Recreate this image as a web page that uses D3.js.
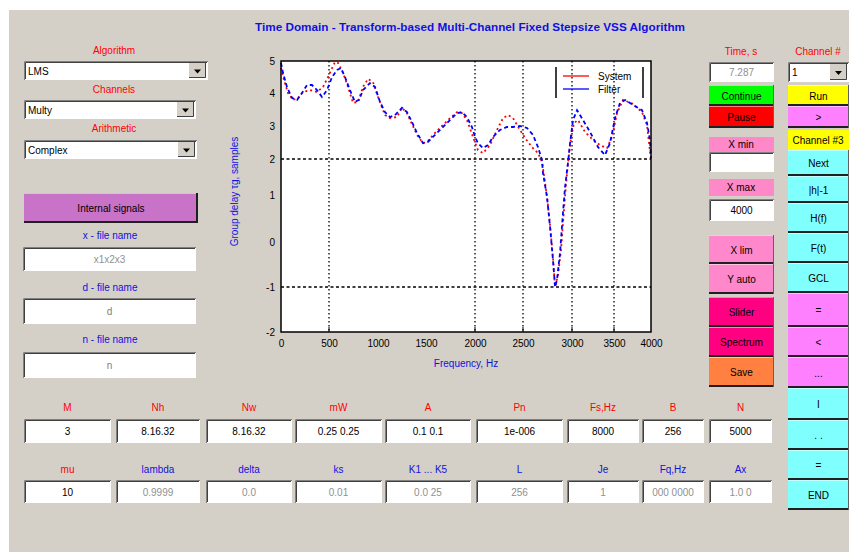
<!DOCTYPE html>
<html><head><meta charset="utf-8">
<script src="https://cdn.jsdelivr.net/npm/d3@7"></script>
<style>
body{margin:0;background:#fff;}
svg{display:block;font-family:"Liberation Sans",Arial,sans-serif;}
</style></head>
<body><svg id="c" width="849" height="552"></svg>
<script>
// ---------- data ----------
const titleText = "Time Domain - Transform-based Multi-Channel Fixed Stepsize VSS Algorithm";
const seriesNames = ["System", "Filter"];
const xTickValues = [0,500,1000,1500,2000,2500,3000,3500,4000];
const xTickLabels = ["0","500","1000","1500","2000","2500","3000","3500","4000"];
const yTickValues = [5,4,3,2,1,0,-1,-2];
const yTickLabels = ["5","4","3","2","1","0","-1","-2"];
const xGrid = [500,2000,2500,3000,3500];
const yGrid = [2,-1];
const systemFreq = [0,31,73,125,177,229,302,375,438,490,561,592,643,694,745,796,847,898,949,1000,1073,1125,1198,1250,1302,1354,1406,1469,1520,1592,1663,1745,1816,1867,1918,1979,2031,2083,2156,2229,2292,2344,2396,2469,2520,2592,2653,2694,2714,2745,2776,2806,2827,2857,2888,2918,2939,2959,2990,3024,3071,3155,3250,3333,3417,3476,3541,3622,3757,3878,3946,4000];
const systemVal = [4.78,4.41,4.0,3.79,3.85,4.03,4.09,4.03,4.19,4.5,4.97,4.94,4.63,4.19,3.70,3.73,4.19,4.44,4.34,3.88,3.33,3.24,3.27,3.55,3.39,3.06,2.73,2.48,2.55,2.79,3.0,3.24,3.42,3.39,3.18,2.67,2.27,2.18,2.42,2.88,3.24,3.33,3.24,2.88,2.64,2.36,2.18,1.92,1.56,0.96,0.36,-0.36,-1.0,-0.73,-0.18,0.68,1.28,1.89,2.64,3.09,3.18,2.82,2.58,2.42,2.33,2.67,3.39,3.79,3.67,3.42,3.03,1.97];
const filterFreq = [0,21,62,115,167,219,271,323,375,427,479,531,582,622,663,714,765,806,847,918,969,1021,1073,1125,1177,1250,1302,1354,1406,1469,1520,1592,1663,1745,1816,1867,1918,1969,2000,2031,2083,2135,2188,2260,2333,2396,2469,2541,2602,2653,2694,2704,2745,2776,2806,2827,2847,2878,2908,2929,2959,2980,3012,3060,3131,3214,3310,3393,3452,3514,3581,3649,3757,3878,3946,3986,4000];
const filterVal = [4.94,4.63,4.19,3.85,3.79,4.0,4.25,4.25,4.09,3.88,4.09,4.5,4.72,4.78,4.5,4.09,3.73,3.79,4.09,4.31,4.19,3.73,3.42,3.27,3.33,3.55,3.42,3.12,2.79,2.48,2.52,2.73,2.94,3.18,3.39,3.42,3.27,2.97,2.67,2.48,2.33,2.42,2.67,2.88,2.97,2.97,3.0,2.94,2.73,2.36,1.97,1.61,0.96,0.32,-0.4,-1.0,-0.84,-0.24,0.62,1.22,1.89,2.48,3.18,3.48,3.18,2.82,2.36,2.12,2.48,3.24,3.70,3.79,3.64,3.48,3.09,2.58,2.03];

// left controls
const leftLabels = ["Algorithm","Channels","Arithmetic"];
const leftDropdowns = ["LMS","Multy","Complex"];
const fileLabels = ["x - file name","d - file name","n - file name"];
const fileValues = ["x1x2x3","d","n"];
// right column A
const colAButtons = ["X lim","Y auto","Slider","Spectrum","Save"];
// right column B
const colBButtons = ["Next","|h|-1","H(f)","F(t)","GCL","=","<","...","I",". .","=","END"];
// bottom rows
const row1Labels = ["M","Nh","Nw","mW","A","Pn","Fs,Hz","B","N"];
const row1Values = ["3","8.16.32","8.16.32","0.25 0.25","0.1 0.1","1e-006","8000","256","5000"];
const row2Labels = ["mu","lambda","delta","ks","K1 ... K5","L","Je","Fq,Hz","Ax"];
const row2Values = ["10","0.9999","0.0","0.01","0.0 25","256","1","000 0000","1.0 0"];

// ---------- drawing ----------
const svg = d3.select("#c");
const GRAY = "#d4d0c8";
svg.append("rect").attr("x",9).attr("y",10).attr("width",840).attr("height",542).attr("fill",GRAY);

function label(t,x,y,col,size,anchor,weight){
  return svg.append("text").attr("x",x).attr("y",y).attr("fill",col).attr("font-size",size||10)
    .attr("text-anchor",anchor||"middle").attr("font-weight",weight||"normal").text(t);
}
function sunken(x,y,w,h){
  svg.append("rect").attr("x",x).attr("y",y).attr("width",w).attr("height",h).attr("fill","#fff");
  svg.append("path").attr("d",`M${x+.5},${y+h}V${y+.5}H${x+w}`).attr("stroke","#808080").attr("fill","none");
  svg.append("path").attr("d",`M${x+1.5},${y+h-1}V${y+1.5}H${x+w-1}`).attr("stroke","#404040").attr("fill","none");
}
function inputBox(x,y,w,h,t,col){
  sunken(x,y,w,h);
  label(t,x+w/2,y+h/2+4,col||"#000",10);
}
function button(x,y,w,h,fill,t,col){
  svg.append("rect").attr("x",x).attr("y",y).attr("width",w).attr("height",h).attr("fill",fill);
  svg.append("path").attr("d",`M${x},${y+.5}H${x+w}`).attr("stroke","#fff").attr("opacity",0.5);
  svg.append("path").attr("d",`M${x},${y+h-1}H${x+w}`).attr("stroke","#202020").attr("stroke-width",2);
  svg.append("path").attr("d",`M${x+w-.5},${y}V${y+h}`).attr("stroke","#606060");
  label(t,x+w/2,y+h/2+4,col||"#000",10);
}
function dropdown(x,y,w,h,t){
  sunken(x,y,w,h);
  label(t,x+4,y+h/2+4,"#000",10,"start");
  const bx=x+w-19, by=y+2, bw=17, bh=h-4;
  svg.append("rect").attr("x",bx).attr("y",by).attr("width",bw).attr("height",bh).attr("fill",GRAY);
  svg.append("path").attr("d",`M${bx},${by+bh-.5}H${bx+bw-.5}V${by}`).attr("stroke","#404040").attr("fill","none");
  svg.append("path").attr("d",`M${bx+5},${by+bh/2-1}h7l-3.5,4z`).attr("fill","#000");
}

// title
label(titleText,470,31,"#1010e0",10,"middle","bold").attr("textLength",430).attr("lengthAdjust","spacingAndGlyphs");

// left panel
const ddY=[61,100,140], ddW=[184,172,173], lblY=[54,93,132];
leftLabels.forEach((t,i)=>{ label(t,114,lblY[i],"#ff0000",10); dropdown(24,ddY[i],ddW[i],19,leftDropdowns[i]); });
button(24,193,174,30,"#c872c8","Internal signals");
svg.append("path").attr("d","M197,193V223").attr("stroke","#202020").attr("stroke-width",2);
const fY=[247,298,352], fL=[239,291,343];
fileLabels.forEach((t,i)=>{ label(t,110,fL[i],"#1010e0",10); inputBox(23,fY[i],173,i==0?24:26,fileValues[i],i==0?"#909090":"#808080"); });

// right column A
label("Time, s",741,55,"#ff0000",10);
inputBox(709,62,65,20,"7.287","#909090");
button(709,85,65,21,"#00ff00","Continue");
button(709,106,65,22,"#ff0000","Pause");
svg.append("rect").attr("x",709).attr("y",137).attr("width",65).attr("height",15).attr("fill","#ff88c8");
label("X min",741,148,"#000",10);
inputBox(709,152,65,20,"","#000");
svg.append("rect").attr("x",709).attr("y",179).attr("width",65).attr("height",17).attr("fill","#ff88c8");
label("X max",741,191,"#000",10);
inputBox(709,199,65,22,"4000","#000");
const aY=[235,264,297,327,357], aH=[29,30,30,30,30], aC=["#ff88cc","#ff88cc","#ff0080","#ff0080","#ff8040"];
colAButtons.forEach((t,i)=>button(709,aY[i],65,aH[i],aC[i],t));

// right column B
label("Channel #",818,55,"#ff0000",10);
dropdown(788,62,61,20,"1");
button(788,85,61,21,"#ffff00","Run");
button(788,106,61,22,"#ff80ff",">");
svg.append("rect").attr("x",788).attr("y",130).attr("width",61).attr("height",20).attr("fill","#ffff00");
label("Channel #3",818,144,"#000",10);
const bY=[150,176,203,233,263,293,327,357,388,420,450,480], bH=[26,27,30,30,30,34,30,31,32,30,30,30];
const bC=["#80ffff","#80ffff","#80ffff","#80ffff","#80ffff","#ff80ff","#ff80ff","#ff80ff","#80ffff","#80ffff","#80ffff","#80ffff"];
colBButtons.forEach((t,i)=>button(788,bY[i],61,bH[i],bC[i],t));

// bottom rows
const colX=[[24,111],[116,200],[206,292],[295,382],[385,471],[476,563],[567,639],[642,704],[709,772]];
colX.forEach((c,i)=>{
  const cx=(c[0]+c[1])/2, w=c[1]-c[0];
  label(row1Labels[i],cx,411,"#ff0000",10);
  inputBox(c[0],419,w,24,row1Values[i],"#000");
  label(row2Labels[i],cx,473,i==0?"#ff0000":"#1010e0",10);
  inputBox(c[0],480,w,23,row2Values[i],i==0?"#000":"#909090");
});

// ---------- chart ----------
const x = d3.scaleLinear().domain(xTickValues).range([281,329,378,426,475,523,572,614,651]);
const y = d3.scaleLinear().domain(yTickValues).range([61,93,126,159,195,242,287,332]);
const X0=x(0), X1=x(4000), Y0=y(5), Y1=y(-2);
svg.append("rect").attr("x",X0).attr("y",Y0).attr("width",X1-X0).attr("height",Y1-Y0).attr("fill","#fff");

// grid
svg.append("g").selectAll("line").data(xGrid).join("line")
  .attr("x1",d=>x(d)).attr("x2",d=>x(d)).attr("y1",Y0).attr("y2",Y1)
  .attr("stroke","#000").attr("stroke-width",1.3).attr("stroke-dasharray","1.5,2.5");
svg.append("g").selectAll("line").data(yGrid).join("line")
  .attr("x1",X0).attr("x2",X1).attr("y1",d=>y(d)).attr("y2",d=>y(d))
  .attr("stroke","#000").attr("stroke-width",1.3).attr("stroke-dasharray","3,2.5");

// lines
const line = d3.line().x(d=>x(d[0])).y(d=>y(d[1]));
svg.append("path").datum(d3.zip(systemFreq,systemVal)).attr("d",line)
  .attr("fill","none").attr("stroke","#ff0000").attr("stroke-width",1.8).attr("stroke-dasharray","2,3");
svg.append("path").datum(d3.zip(filterFreq,filterVal)).attr("d",line)
  .attr("fill","none").attr("stroke","#0000ff").attr("stroke-width",1.8).attr("stroke-dasharray","4,3");

// frame
svg.append("rect").attr("x",X0).attr("y",Y0).attr("width",X1-X0).attr("height",Y1-Y0)
  .attr("fill","none").attr("stroke","#000").attr("stroke-width",1.5);

// axes
const xa = svg.append("g").attr("transform",`translate(0,${Y1})`)
  .call(d3.axisBottom(x).tickValues(xTickValues).tickFormat((d,i)=>xTickLabels[i]).tickSize(0).tickPadding(8));
const ya = svg.append("g").attr("transform",`translate(${X0},0)`)
  .call(d3.axisLeft(y).tickValues(yTickValues).tickFormat((d,i)=>yTickLabels[i]).tickSize(0).tickPadding(6));
[xa,ya].forEach(a=>{ a.select(".domain").remove(); a.selectAll("text").attr("font-size",10).attr("fill","#000").attr("font-family","Liberation Sans, Arial, sans-serif"); });
svg.append("g").selectAll("line").data(xGrid).join("line")
  .attr("x1",d=>x(d)).attr("x2",d=>x(d)).attr("y1",Y1).attr("y2",Y1-5).attr("stroke","#000");

label("Frequency, Hz",(X0+X1)/2,367,"#1010e0",10);
label("Group delay \u03C4g, samples",0,0,"#1010e0",10).attr("transform",`translate(238,${(Y0+Y1)/2-5}) rotate(-90)`);

// legend
const lg = svg.append("g");
lg.append("line").attr("x1",556).attr("x2",556).attr("y1",67).attr("y2",98).attr("stroke","#000").attr("stroke-width",1.5);
lg.append("line").attr("x1",643).attr("x2",643).attr("y1",67).attr("y2",98).attr("stroke","#000").attr("stroke-width",1.5);
seriesNames.forEach((n,i)=>{
  lg.append("line").attr("x1",563).attr("x2",589).attr("y1",76+i*13).attr("y2",76+i*13)
    .attr("stroke",i==0?"#ff0000":"#0000ff").attr("stroke-width",1.3);
  lg.append("text").attr("x",598).attr("y",80+i*13).attr("font-size",10).attr("fill","#000").text(n);
});
</script></body></html>
